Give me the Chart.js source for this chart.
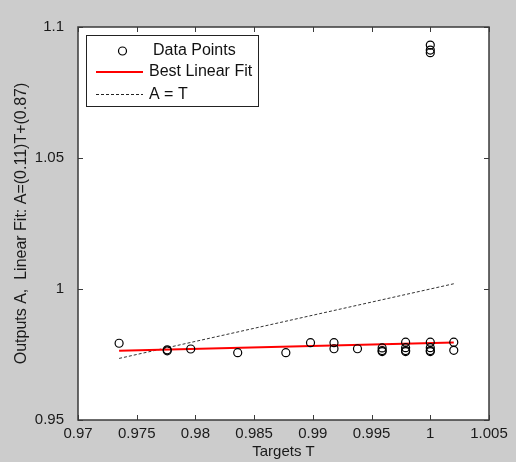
<!DOCTYPE html>
<html lang="en">
<head>
  <meta charset="UTF-8">
  <title>Regression • Outputs vs Targets</title>
  <script src="https://cdn.jsdelivr.net/npm/chart.js"></script>
  <style>
    html, body { margin: 0; padding: 0; background: #cccccc; }
    #wrap { width: 516px; height: 462px; }
  </style>
</head>
<body>
  <div id="wrap"><canvas id="chart-reg" width="516" height="462"></canvas></div>

  <script>
    // data
    const targets = [0.9735, 0.9776, 0.9776, 0.9796, 0.9836, 0.9877, 0.9898, 0.9918, 0.9918, 0.9938,
                     0.9959, 0.9959, 0.9959, 0.9979, 0.9979, 0.9979, 0.9979,
                     1.0, 1.0, 1.0, 1.0, 1.0, 1.0, 1.0, 1.002, 1.002];
    const outputs = [0.9793, 0.9768, 0.9764, 0.9771, 0.9757, 0.9757, 0.9795, 0.9795, 0.9772, 0.9772,
                     0.9775, 0.9765, 0.9761, 0.9797, 0.9776, 0.9765, 0.9761,
                     0.9797, 0.9776, 0.9765, 0.9761, 1.0931, 1.0912, 1.0902, 0.9797, 0.9766];
    const fitT = [0.9735, 1.002];
    const fitA = [0.9764, 0.9796];
    const identT = [0.9735, 1.002];
    const identA = [0.9735, 1.002];

    const xTicks = [0.97, 0.975, 0.98, 0.985, 0.99, 0.995, 1, 1.005];
    const yTicks = [0.95, 1, 1.05, 1.1];

    const FONT = '"Liberation Sans", Arial, sans-serif';
    const toPts = (xs, ys) => xs.map((x, i) => ({ x, y: ys[i] }));

    // white axes box, inward ticks on all four sides, MATLAB style legend
    const matlabAxes = {
      id: 'matlabAxes',
      beforeDatasetsDraw(chart) {
        const { ctx, chartArea: a } = chart;
        ctx.save();
        ctx.fillStyle = '#ffffff';
        ctx.fillRect(a.left, a.top, a.right - a.left, a.bottom - a.top);
        ctx.restore();
      },
      afterDatasetsDraw(chart) {
        const { ctx, chartArea: a, scales } = chart;
        const tl = 5;
        ctx.save();
        ctx.strokeStyle = '#3a3a3a';
        ctx.lineWidth = 1;
        ctx.beginPath();
        scales.x.ticks.forEach(t => {
          const px = Math.round(scales.x.getPixelForValue(t.value)) + 0.5;
          ctx.moveTo(px, a.bottom); ctx.lineTo(px, a.bottom - tl);
          ctx.moveTo(px, a.top); ctx.lineTo(px, a.top + tl);
        });
        scales.y.ticks.forEach(t => {
          const py = Math.round(scales.y.getPixelForValue(t.value)) + 0.5;
          ctx.moveTo(a.left, py); ctx.lineTo(a.left + tl, py);
          ctx.moveTo(a.right, py); ctx.lineTo(a.right - tl, py);
        });
        ctx.stroke();
        ctx.lineWidth = 1.5;
        ctx.strokeRect(a.left, a.top, a.right - a.left, a.bottom - a.top);

        // legend
        const lx = 86.5, ly = 35.5, lw = 172, lh = 71;
        ctx.fillStyle = '#ffffff';
        ctx.fillRect(lx, ly, lw, lh);
        ctx.strokeStyle = '#222';
        ctx.lineWidth = 1;
        ctx.strokeRect(lx, ly, lw, lh);

        ctx.beginPath();
        ctx.arc(122.5, 51, 4, 0, Math.PI * 2);
        ctx.strokeStyle = '#000';
        ctx.lineWidth = 1.2;
        ctx.stroke();

        ctx.beginPath();
        ctx.moveTo(96, 72); ctx.lineTo(143, 72);
        ctx.strokeStyle = '#ff0000';
        ctx.lineWidth = 2;
        ctx.stroke();

        ctx.beginPath();
        ctx.setLineDash([3, 2]);
        ctx.moveTo(96, 94.5); ctx.lineTo(143, 94.5);
        ctx.strokeStyle = '#222';
        ctx.lineWidth = 1;
        ctx.stroke();
        ctx.setLineDash([]);

        ctx.fillStyle = '#111';
        ctx.font = '16px ' + FONT;
        ctx.textBaseline = 'middle';
        ctx.textAlign = 'left';
        ctx.fillText('Data Points', 153, 51);
        ctx.fillText('Best Linear Fit', 149, 72);
        ctx.fillText('A = T', 149, 95);
        ctx.restore();
      }
    };

    new Chart(document.getElementById('chart-reg'), {
      type: 'scatter',
      data: {
        datasets: [
          {
            label: 'Data Points',
            data: toPts(targets, outputs),
            pointStyle: 'circle',
            pointRadius: 4,
            pointBorderWidth: 1.2,
            pointBorderColor: '#000',
            pointBackgroundColor: 'rgba(0,0,0,0)',
            showLine: false,
            order: 1
          },
          {
            label: 'Best Linear Fit',
            type: 'line',
            data: toPts(fitT, fitA),
            borderColor: '#ff0000',
            borderWidth: 2,
            pointRadius: 0,
            order: 2
          },
          {
            label: 'A = T',
            type: 'line',
            data: toPts(identT, identA),
            borderColor: '#333',
            borderWidth: 1,
            borderDash: [3, 2],
            pointRadius: 0,
            order: 3
          }
        ]
      },
      options: {
        responsive: false,
        animation: false,
        layout: { padding: { top: 27, right: 27, left: 0, bottom: 0 } },
        plugins: { legend: { display: false }, tooltip: { enabled: false } },
        scales: {
          x: {
            type: 'linear', min: 0.97, max: 1.005,
            afterBuildTicks: s => { s.ticks = xTicks.map(v => ({ value: v })); },
            afterFit: s => { s.height = 42; },
            grid: { display: false }, border: { display: false },
            ticks: { color: '#1a1a1a', font: { family: FONT, size: 15 }, padding: -3,
                     maxRotation: 0, autoSkip: false, callback: v => String(v) },
            title: { display: true, text: 'Targets T', color: '#1a1a1a',
                     font: { family: FONT, size: 15 }, padding: { top: 0, bottom: 1 } }
          },
          y: {
            type: 'linear', min: 0.95, max: 1.1,
            afterBuildTicks: s => { s.ticks = yTicks.map(v => ({ value: v })); },
            afterFit: s => { s.width = 78; },
            grid: { display: false }, border: { display: false },
            ticks: { color: '#1a1a1a', font: { family: FONT, size: 15 }, padding: 6,
                     autoSkip: false, callback: v => String(v) },
            title: { display: true, text: 'Outputs A,  Linear Fit: A=(0.11)T+(0.87)', color: '#1a1a1a',
                     font: { family: FONT, size: 16 }, padding: { top: 12, bottom: 0 } }
          }
        }
      },
      plugins: [matlabAxes]
    });
  </script>
</body>
</html>
